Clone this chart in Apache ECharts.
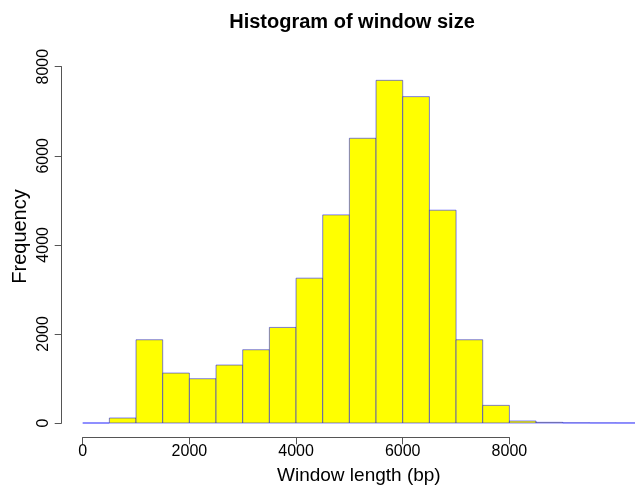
<!DOCTYPE html>
<html>
<head>
<meta charset="utf-8">
<script src="https://cdn.jsdelivr.net/npm/echarts@6/dist/echarts.min.js"></script>
<style>
  html, body { margin: 0; padding: 0; background: #fff; }
  #chart { width: 635px; height: 490px; }
</style>
</head>
<body>
<div id="chart"></div>
<script>
// Histogram bins (bp): each bin is [binStart, binStart + binWidth)
const binWidth = 500;
const binStarts = [0, 500, 1000, 1500, 2000, 2500, 3000, 3500, 4000, 4500,
                   5000, 5500, 6000, 6500, 7000, 7500, 8000, 8500, 9000, 9500, 10000];
const counts = [0, 112, 1869, 1121, 994, 1301, 1645, 2146, 3252, 4673,
                6393, 7694, 7328, 4778, 1869, 396, 45, 15, 4, 2, 1];
const xTicks = [0, 2000, 4000, 6000, 8000];
const yTicks = [0, 2000, 4000, 6000, 8000];

const font = '"Liberation Sans", Arial, Helvetica, sans-serif';
const axisGray = '#555';

const histData = binStarts.map((s, i) => [s, s + binWidth, counts[i]]);

const chart = echarts.init(document.getElementById('chart'), null, { renderer: 'canvas' });

// plot region: bars sit on the baseline, the tick axis is drawn a little below it
const plotLeft = 82.7, plotTop = 66.7, plotHeight = 356.7;
const tickAxisY = 437.3;
const pxPerUnit = 426.7 / 8000;
const plotWidth = 635 - plotLeft;

const plainNumber = v => String(v);

chart.setOption({
  animation: false,
  backgroundColor: '#ffffff',
  title: {
    text: 'Histogram of window size',
    left: 347,
    textAlign: 'center',
    top: 7,
    textStyle: { fontFamily: font, fontWeight: 'bold', fontSize: 20, color: '#000' }
  },
  graphic: [
    {
      type: 'text',
      x: 20, y: 236.5,
      rotation: Math.PI / 2,
      style: {
        text: 'Frequency',
        font: '20px ' + font,
        fill: '#000',
        align: 'center',
        verticalAlign: 'middle'
      }
    }
  ],
  grid: [
    { left: plotLeft, top: plotTop, width: plotWidth, height: plotHeight },
    { left: plotLeft, top: plotTop, width: 426.7, height: tickAxisY - plotTop }
  ],
  xAxis: [
    {
      type: 'value', gridIndex: 0,
      min: 0, max: plotWidth / pxPerUnit,
      axisLine: { show: false }, axisTick: { show: false },
      axisLabel: { show: false }, splitLine: { show: false },
      name: 'Window length (bp)', nameLocation: 'middle', nameGap: 43,
      nameTextStyle: { fontFamily: font, fontSize: 19, color: '#000' }
    },
    {
      type: 'value', gridIndex: 1,
      min: xTicks[0], max: xTicks[xTicks.length - 1], interval: 2000,
      position: 'bottom',
      axisLine: { show: true, onZero: false, lineStyle: { color: axisGray, width: 1 } },
      axisTick: { show: true, length: 7, lineStyle: { color: axisGray } },
      axisLabel: { fontFamily: font, fontSize: 16, color: '#000', margin: 6, formatter: plainNumber },
      splitLine: { show: false }
    }
  ],
  yAxis: [
    {
      type: 'value', gridIndex: 0,
      min: yTicks[0], max: yTicks[yTicks.length - 1], interval: 2000,
      position: 'left', offset: 21,
      axisLine: { show: true, onZero: false, lineStyle: { color: axisGray, width: 1 } },
      axisTick: { show: true, length: 7, lineStyle: { color: axisGray } },
      axisLabel: { fontFamily: font, fontSize: 16, color: '#000', rotate: 90, margin: 10, formatter: plainNumber },
      splitLine: { show: false }
    },
    {
      type: 'value', gridIndex: 1, min: 0, max: 1, show: false
    }
  ],
  series: [
    {
      type: 'custom',
      xAxisIndex: 0, yAxisIndex: 0,
      data: histData,
      renderItem: function (params, api) {
        const p0 = api.coord([api.value(0), api.value(2)]);
        const p1 = api.coord([api.value(1), 0]);
        return {
          type: 'rect',
          shape: { x: p0[0], y: p0[1], width: p1[0] - p0[0], height: p1[1] - p0[1] },
          style: { fill: '#ffff00', stroke: 'rgba(0,0,255,0.5)', lineWidth: 1 }
        };
      }
    }
  ]
});
</script>
</body>
</html>
